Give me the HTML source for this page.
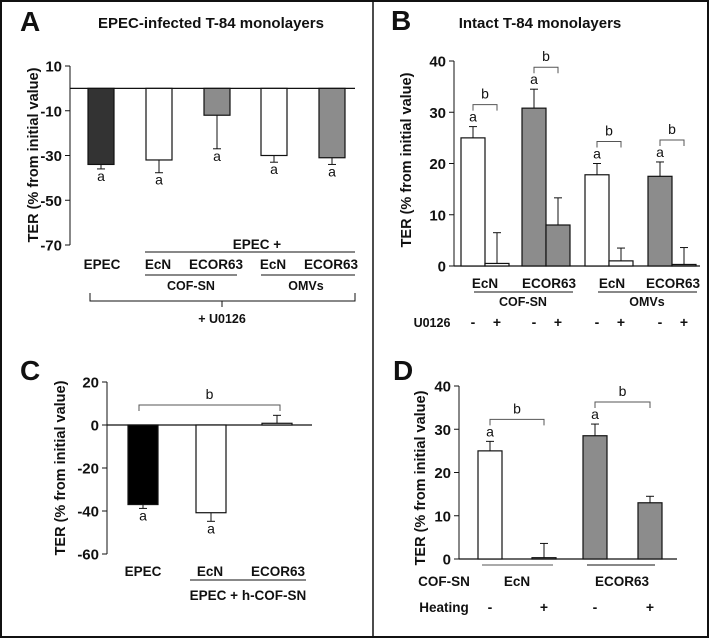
<!DOCTYPE html>
<html><head><meta charset="utf-8">
<style>
html,body{margin:0;padding:0;background:#fff;}
svg{display:block;font-family:"Liberation Sans",Arial,sans-serif;}
text{font-weight:bold;fill:#111;}
</style></head>
<body>
<svg id="fig" width="709" height="638" viewBox="0 0 709 638">
<rect x="1" y="1" width="707" height="636" fill="none" stroke="#111" stroke-width="2"/>
<line x1="373" y1="0" x2="373" y2="638" stroke="#111" stroke-width="1.5"/>

<g>
<text x="20" y="31" font-size="28">A</text>
<text x="211" y="28" font-size="15" text-anchor="middle">EPEC-infected T-84 monolayers</text>
<text transform="translate(38,155) rotate(-90)" font-size="14.5" text-anchor="middle">TER (% from initial value)</text>
<text x="257" y="249" font-size="13.5" text-anchor="middle">EPEC +</text>
<line x1="145" y1="252" x2="355" y2="252" stroke="#111"/>
<text x="102" y="269" font-size="13.5" text-anchor="middle">EPEC</text>
<text x="158" y="269" font-size="13.5" text-anchor="middle">EcN</text>
<text x="216" y="269" font-size="13.5" text-anchor="middle">ECOR63</text>
<text x="273" y="269" font-size="13.5" text-anchor="middle">EcN</text>
<text x="331" y="269" font-size="13.5" text-anchor="middle">ECOR63</text>
<line x1="145" y1="275" x2="237" y2="275" stroke="#111"/>
<line x1="261" y1="275" x2="355" y2="275" stroke="#111"/>
<text x="191" y="290" font-size="12.5" text-anchor="middle">COF-SN</text>
<text x="306" y="290" font-size="12.5" text-anchor="middle">OMVs</text>
<path d="M90,293 L90,301 L355,301 L355,293 M222,301 L222,307" fill="none" stroke="#111"/>
<text x="222" y="323" font-size="12.5" text-anchor="middle">+ U0126</text>
</g>
<g id="gA"></g>

<g>
<text x="391" y="30" font-size="28">B</text>
<text x="540" y="28" font-size="15" text-anchor="middle">Intact T-84 monolayers</text>
<text transform="translate(411,160) rotate(-90)" font-size="14.5" text-anchor="middle">TER  (% from initial value)</text>
<text x="485" y="288" font-size="13.5" text-anchor="middle">EcN</text>
<text x="549" y="288" font-size="13.5" text-anchor="middle">ECOR63</text>
<text x="612" y="288" font-size="13.5" text-anchor="middle">EcN</text>
<text x="673" y="288" font-size="13.5" text-anchor="middle">ECOR63</text>
<line x1="474" y1="292" x2="573" y2="292" stroke="#111"/>
<line x1="598" y1="292" x2="697" y2="292" stroke="#111"/>
<text x="523" y="306" font-size="12.5" text-anchor="middle">COF-SN</text>
<text x="647" y="306" font-size="12.5" text-anchor="middle">OMVs</text>
<text x="432" y="327" font-size="12.5" text-anchor="middle">U0126</text>
</g>
<g id="gB"></g>

<g>
<text x="20" y="380" font-size="28">C</text>
<text transform="translate(65,468) rotate(-90)" font-size="14.5" text-anchor="middle">TER (% from initial value)</text>
<text x="143" y="576" font-size="13.5" text-anchor="middle">EPEC</text>
<text x="210" y="576" font-size="13.5" text-anchor="middle">EcN</text>
<text x="278" y="576" font-size="13.5" text-anchor="middle">ECOR63</text>
<line x1="190" y1="580" x2="306" y2="580" stroke="#111"/>
<text x="248" y="600" font-size="13.5" text-anchor="middle">EPEC + h-COF-SN</text>
</g>
<g id="gC"></g>

<g>
<text x="393" y="380" font-size="28">D</text>
<text transform="translate(425,478) rotate(-90)" font-size="14.5" text-anchor="middle">TER (% from initial value)</text>
<line x1="482" y1="565" x2="553" y2="565" stroke="#555"/>
<line x1="587" y1="565" x2="655" y2="565" stroke="#111"/>
<text x="444" y="586" font-size="13.5" text-anchor="middle">COF-SN</text>
<text x="517" y="586" font-size="13.5" text-anchor="middle">EcN</text>
<text x="622" y="586" font-size="13.5" text-anchor="middle">ECOR63</text>
<text x="444" y="612" font-size="13.5" text-anchor="middle">Heating</text>
</g>
<g id="gD"></g>
</svg>

<script>
// Panel A data
const aValues = [-34, -32, -12, -30, -31];
const aErrors = [-36, -37.7, -27, -33, -34];
const aFills = ["#333", "#fff", "#8c8c8c", "#fff", "#8c8c8c"];
const aTicks = [10, -10, -30, -50, -70];
// Panel B data
const bValues = [25, 0.5, 30.8, 8, 17.8, 1, 17.5, 0.3];
const bErrors = [27.2, 6.5, 34.5, 13.3, 20, 3.5, 20.3, 3.6];
const bFills = ["#fff", "#fff", "#8c8c8c", "#8c8c8c", "#fff", "#fff", "#8c8c8c", "#8c8c8c"];
const bTicks = [0, 10, 20, 30, 40];
const bSigns = ["-", "+", "-", "+", "-", "+", "-", "+"];
// Panel C data
const cValues = [-37, -40.8, 0.8];
const cErrors = [-38.8, -44.8, 4.5];
const cFills = ["#000", "#fff", "#fff"];
const cTicks = [20, 0, -20, -40, -60];
// Panel D data
const dValues = [25, 0.3, 28.5, 13];
const dErrors = [27.2, 3.6, 31.2, 14.5];
const dFills = ["#fff", "#fff", "#8c8c8c", "#8c8c8c"];
const dTicks = [0, 10, 20, 30, 40];
const dSigns = ["-", "+", "-", "+"];

const NS = "http://www.w3.org/2000/svg";
function mk(parent, tag, attrs, txt) {
  const e = document.createElementNS(NS, tag);
  for (const k in attrs) e.setAttribute(k, attrs[k]);
  if (txt !== undefined) e.textContent = txt;
  parent.appendChild(e);
  return e;
}
function scale(v0, y0, v1, y1) { return v => y0 + (v - v0) * (y1 - y0) / (v1 - v0); }

function drawAxis(g, x, yTop, yBot, ticks, y, zeroX2, name) {
  const ax = mk(g, "line", {x1: x, y1: yTop, x2: x, y2: yBot, stroke: "#111"});
  
  
  ticks.forEach(t => {
    mk(g, "line", {x1: x - 5, y1: y(t), x2: x, y2: y(t), stroke: "#111"});
    const tl = mk(g, "text", {x: x - 8, y: y(t) + 5.5, "font-size": 15, "text-anchor": "end"}, String(t));
    
    
  });
  const z = mk(g, "line", {x1: x, y1: y(0), x2: zeroX2, y2: y(0), stroke: "#111", "stroke-width": 1.3});
  
  
}
function drawBar(g, x, w, v, err, fill, y, name) {
  const top = Math.min(y(v), y(0)), h = Math.abs(y(v) - y(0));
  const cx = x + w / 2;
  const el = mk(g, "line", {x1: cx, y1: y(v), x2: cx, y2: y(err), stroke: "#111"});
  
  
  mk(g, "line", {x1: cx - 4, y1: y(err), x2: cx + 4, y2: y(err), stroke: "#111"});
  const r = mk(g, "rect", {x: x, y: top, width: w, height: Math.max(h, 0.5), fill: fill, stroke: "#111", "stroke-width": 1.2});
  
  
}
function label(g, x, y, t, name, size) {
  const e = mk(g, "text", {x: x, y: y, "font-size": size || 14, "text-anchor": "middle", style: "font-weight:normal"}, t);
  
  
  return e;
}
function bracket(g, x1, x2, yb, name) {
  const p = mk(g, "path", {d: `M${x1},${yb + 6} L${x1},${yb} L${x2},${yb} L${x2},${yb + 6}`, fill: "none", stroke: "#555"});
  
  
  label(g, (x1 + x2) / 2, yb - 6, "b", name + '-label');
}

(function () {
  const g = document.getElementById("gA");
  const y = scale(10, 66, -70, 245);
  drawAxis(g, 70, 66, 245, aTicks, y, 355, "panel-a");
  const xs = [88, 146, 204, 261, 319], w = 26;
  aValues.forEach((v, i) => {
    drawBar(g, xs[i], w, v, aErrors[i], aFills[i], y, "panel-a-bar-" + i);
    label(g, xs[i] + w / 2, Math.max(y(v), y(aErrors[i])) + 12, "a", "panel-a-sig-a-" + i);
  });
})();

(function () {
  const g = document.getElementById("gB");
  const y = scale(0, 266, 40, 61);
  drawAxis(g, 454, 61, 266, bTicks, y, 700, "panel-b");
  const pairX = [461, 522, 585, 648], w = 24;
  bValues.forEach((v, i) => {
    const x = pairX[Math.floor(i / 2)] + (i % 2) * w;
    drawBar(g, x, w, v, bErrors[i], bFills[i], y, "panel-b-bar-" + i);
    const s = mk(g, "text", {x: x + w / 2, y: 327, "font-size": 14, "text-anchor": "middle"}, bSigns[i]);
    
    
  });
  for (let p = 0; p < 4; p++) {
    const x = pairX[p];
    const e = bErrors[2 * p];
    label(g, x + w / 2, y(e) - 5, "a", "panel-b-sig-a-" + p);
    bracket(g, x + w / 2, x + 1.5 * w, y(e) - 22, "panel-b-bracket-" + p);
  }
})();

(function () {
  const g = document.getElementById("gC");
  const y = scale(20, 382, -60, 554);
  drawAxis(g, 107, 382, 554, cTicks, y, 312, "panel-c");
  const xs = [128, 196, 262], w = 30;
  cValues.forEach((v, i) => {
    drawBar(g, xs[i], w, v, cErrors[i], cFills[i], y, "panel-c-bar-" + i);
    if (v < 0) label(g, xs[i] + w / 2, y(cErrors[i]) + 12, "a", "panel-c-sig-a-" + i);
  });
  bracket(g, 139, 280, 405, "panel-c-bracket");
})();

(function () {
  const g = document.getElementById("gD");
  const y = scale(0, 559, 40, 386);
  drawAxis(g, 459, 386, 559, dTicks, y, 677, "panel-d");
  const xs = [478, 532, 583, 638], w = 24;
  dValues.forEach((v, i) => {
    drawBar(g, xs[i], w, v, dErrors[i], dFills[i], y, "panel-d-bar-" + i);
    const s = mk(g, "text", {x: xs[i] + w / 2, y: 612, "font-size": 14, "text-anchor": "middle"}, dSigns[i]);
    
    
  });
  for (let p = 0; p < 2; p++) {
    const e = dErrors[2 * p];
    label(g, xs[2 * p] + w / 2, y(e) - 5, "a", "panel-d-sig-a-" + p);
    bracket(g, xs[2 * p] + w / 2, xs[2 * p + 1] + w / 2, y(e) - 22, "panel-d-bracket-" + p);
  }
})();
</script>
</body></html>
